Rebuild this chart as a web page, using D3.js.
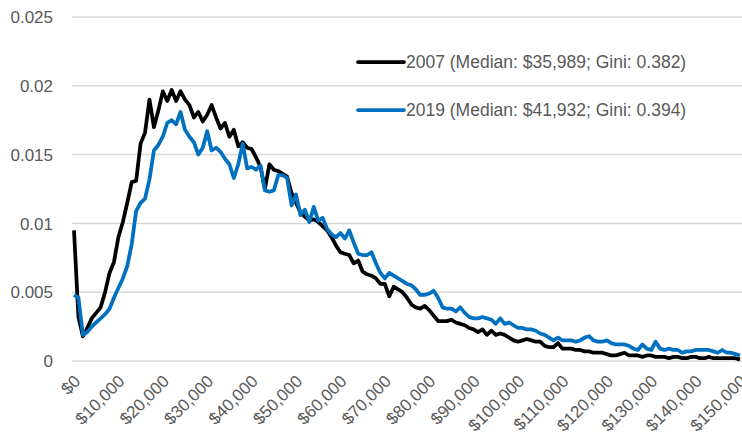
<!DOCTYPE html>
<html>
<head>
<meta charset="utf-8">
<script src="https://cdn.jsdelivr.net/npm/d3@7"></script>
<style>
  body { margin: 0; background: #fff; }
  svg { font-family: "Liberation Sans", Arial, sans-serif; }
</style>
</head>
<body>
<svg width="742" height="441"></svg>
<script>
// income in $1,000 steps, 0..150
var incomeK = d3.range(0, 151);

// density values (x 0.001)
var v2007 = [
  9.5, 3.2, 1.8, 2.4, 3.1, 3.5, 3.9, 5.0, 6.4, 7.2,
  9.0, 10.1, 11.5, 13.0, 13.1, 15.8, 16.6, 19.0, 17.0, 18.2,
  19.6, 18.9, 19.7, 18.9, 19.6, 19.0, 18.6, 17.7, 18.1, 17.4,
  17.9, 18.6, 17.7, 16.9, 17.3, 16.3, 16.8, 15.6, 15.9, 15.5,
  15.4, 14.8, 14.1, 12.5, 14.3, 13.9, 13.8, 13.6, 13.4, 12.2,
  11.5, 10.8, 10.5, 10.2, 10.3, 10.1, 9.8, 9.5, 9.0, 8.4,
  7.9, 7.8, 7.7, 7.1, 7.3, 6.5, 6.3, 6.2, 6.0, 5.6,
  5.6, 4.7, 5.4, 5.2, 5.0, 4.6, 4.1, 3.9, 3.8, 4.0,
  3.7, 3.3, 2.9, 2.9, 2.9, 3.0, 2.8, 2.7, 2.6, 2.4,
  2.3, 2.1, 2.3, 1.9, 2.2, 1.9, 2.0, 1.9, 1.7, 1.5,
  1.4, 1.5, 1.6, 1.5, 1.4, 1.4, 1.1, 1.0, 1.0, 1.3,
  0.9, 0.9, 0.9, 0.8, 0.8, 0.7, 0.7, 0.6, 0.6, 0.6,
  0.5, 0.4, 0.4, 0.5, 0.6, 0.4, 0.4, 0.4, 0.3, 0.4,
  0.4, 0.3, 0.3, 0.3, 0.2, 0.3, 0.3, 0.2, 0.2, 0.3,
  0.3, 0.2, 0.2, 0.3, 0.2, 0.2, 0.2, 0.2, 0.2, 0.2,
  0.1
];
var v2019 = [
  4.8, 4.6, 1.9, 2.1, 2.5, 2.8, 3.1, 3.4, 3.8, 4.6,
  5.3, 6.0, 6.9, 8.5, 10.9, 11.5, 11.8, 13.2, 15.3, 15.7,
  16.3, 17.3, 17.5, 17.2, 18.1, 16.8, 16.3, 15.9, 15.0, 15.5,
  16.7, 15.3, 15.5, 15.2, 14.7, 14.3, 13.3, 14.3, 15.8, 14.0,
  14.1, 13.9, 14.2, 12.4, 12.3, 12.4, 13.5, 13.5, 13.3, 11.3,
  12.1, 10.6, 11.0, 10.1, 11.2, 10.2, 10.4, 9.6, 9.2, 9.0,
  9.3, 8.9, 9.5, 8.6, 7.8, 7.7, 7.7, 7.9, 7.1, 6.4,
  6.0, 6.4, 6.2, 6.0, 5.8, 5.6, 5.5, 5.2, 4.8, 4.8,
  4.9, 5.1, 4.6, 3.9, 3.8, 3.8, 3.6, 3.9, 3.5, 3.2,
  3.1, 3.1, 3.2, 3.1, 3.0, 2.7, 3.1, 2.7, 2.8, 2.6,
  2.4, 2.4, 2.3, 2.3, 2.2, 2.0, 1.9, 1.7, 1.5, 1.7,
  1.5, 1.5, 1.5, 1.4, 1.5, 1.7, 1.8, 1.5, 1.4, 1.4,
  1.5, 1.3, 1.2, 1.2, 1.2, 1.1, 0.9, 0.8, 1.2, 0.9,
  0.8, 1.4, 0.9, 0.8, 0.9, 0.8, 0.8, 0.6, 0.7, 0.7,
  0.8, 0.8, 0.8, 0.8, 0.7, 0.6, 0.8, 0.6, 0.6, 0.5,
  0.4
];

var seriesNames = ["2007 (Median: $35,989; Gini: 0.382)", "2019 (Median: $41,932; Gini: 0.394)"];
var seriesColors = ["#000000", "#0070c0"];
var yTicks = [0, 0.005, 0.01, 0.015, 0.02, 0.025];
var xTicks = d3.range(0, 151, 10);

var svg = d3.select("svg");

var x = d3.scaleLinear().domain([0, 150]).range([74, 740]);
var y = d3.scaleLinear().domain([0, 0.025]).range([361, 17]);

// gridlines
svg.append("g")
    .selectAll("line")
    .data(yTicks)
    .enter()
    .append("line")
    .attr("x1", 72).attr("x2", 742)
    .attr("y1", d => y(d)).attr("y2", d => y(d))
    .attr("stroke", "#d9d9d9")
    .attr("stroke-width", 1.5);

// y labels
svg.append("g")
    .selectAll("text")
    .data(yTicks)
    .enter()
    .append("text")
    .attr("x", 53)
    .attr("y", d => y(d))
    .attr("dy", "0.36em")
    .attr("text-anchor", "end")
    .attr("fill", "#595959")
    .style("font-size", "17px")
    .text(d => d === 0 ? "0" : String(+d.toFixed(3)));

// x labels, rotated
svg.append("g")
    .selectAll("text")
    .data(xTicks)
    .enter()
    .append("text")
    .attr("transform", d => "translate(" + (x(d) + 3) + ",378) rotate(-45)")
    .attr("dy", "0.36em")
    .attr("text-anchor", "end")
    .attr("fill", "#595959")
    .style("font-size", "17px")
    .text(d => "$" + d3.format(",")(d * 1000));

// lines
var line = d3.line()
    .x((d, i) => x(incomeK[i]))
    .y(d => y(d / 1000));

[v2007, v2019].forEach(function(vals, i){
    svg.append("path")
        .datum(vals)
        .attr("fill", "none")
        .attr("stroke", seriesColors[i])
        .attr("stroke-width", 3.75)
        .attr("stroke-linejoin", "round")
        .attr("d", line);
});

// legend
var legend = svg.append("g");
[62, 110].forEach(function(ly, i){
    legend.append("rect")
        .attr("x", 351).attr("y", ly - 3)
        .attr("width", 52).attr("height", 6)
        .attr("fill", "#fff");
    legend.append("line")
        .attr("x1", 358).attr("x2", 404)
        .attr("y1", ly).attr("y2", ly)
        .attr("stroke", seriesColors[i])
        .attr("stroke-width", 3.75)
        .attr("stroke-linecap", "round");
    legend.append("text")
        .attr("x", 406).attr("y", ly)
        .attr("dy", "0.36em")
        .attr("fill", "#595959")
        .style("font-size", "17.5px")
        .text(seriesNames[i]);
});
</script>
</body>
</html>
